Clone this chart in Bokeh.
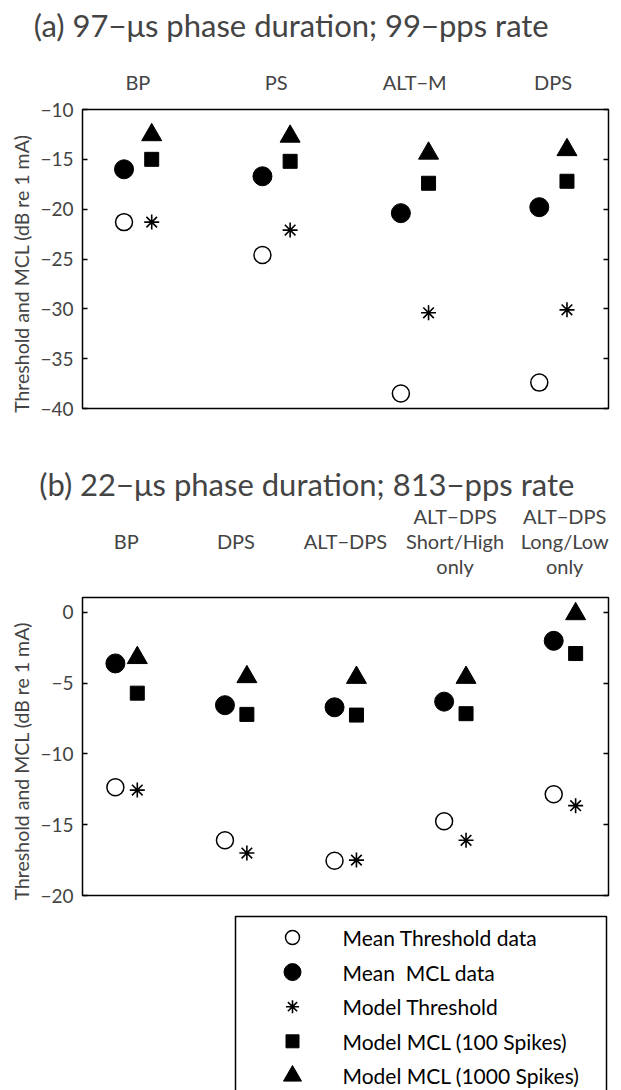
from bokeh.plotting import figure
from bokeh.layouts import column
from bokeh.models import FixedTicker, LinearAxis, Range1d, CustomLabelingPolicy
from bokeh.core.properties import value
from bokeh.embed import file_html
from bokeh.resources import INLINE

FONT = "Lato"

# ---------------- data ----------------
title_a = "(a) 97\u2212\u03bcs phase duration; 99\u2212pps rate"
cats_a = ["BP", "PS", "ALT\u2212M", "DPS"]
a_thr_data = [-21.3, -24.6, -38.5, -37.4]
a_mcl_data = [-16.0, -16.7, -20.4, -19.8]
a_thr_model = [-21.3, -22.1, -30.4, -30.1]
a_mcl100 = [-15.0, -15.2, -17.4, -17.2]
a_mcl1000 = [-12.55, -12.7, -14.4, -14.05]
a_yticks = [-40, -35, -30, -25, -20, -15, -10]

title_b = "(b) 22\u2212\u03bcs phase duration; 813\u2212pps rate"
cats_b = [" \nBP\n ", " \nDPS\n ", " \nALT\u2212DPS\n ",
          "ALT\u2212DPS\nShort/High\nonly", "ALT\u2212DPS\nLong/Low\nonly"]
b_thr_data = [-12.35, -16.1, -17.55, -14.75, -12.85]
b_mcl_data = [-3.6, -6.55, -6.7, -6.3, -2.0]
b_thr_model = [-12.55, -17.0, -17.5, -16.1, -13.65]
b_mcl100 = [-5.7, -7.2, -7.25, -7.15, -2.9]
b_mcl1000 = [-3.2, -4.55, -4.6, -4.6, -0.1]
b_yticks = [-20, -15, -10, -5, 0]

ylabel = "Threshold and MCL (dB re 1 mA)"
legend_labels = ["Mean Threshold data", "Mean\u00a0\u00a0MCL data", "Model Threshold",
                 "Model MCL (100 Spikes)", "Model MCL (1000 Spikes)"]

# marker styles (legend order)
STYLES = [
    dict(marker="circle", size=17, fill_color=None, line_color="black", line_width=1.5),
    dict(marker="circle", size=19, fill_color="black", line_color="black", line_width=1),
    dict(marker="asterisk", size=15, line_color="black", line_width=1.6),
    dict(marker="square", size=14, fill_color="black", line_color="black", line_width=1),
    dict(marker="triangle", size=20, fill_color="black", line_color="black", line_width=1),
]
LEGEND_SIZES = [14, 17, 13, 13, 18]

LEFT, RIGHT, W = 82, 13, 621
EN = "\u2002"


def fmt(t):
    return ("\u2212" + str(abs(t))) if t < 0 else str(t)


def make_panel(title, cats, series, y0, y1, yticks, height, top, bottom,
               title_pad, title_standoff, cat_standoff):
    n = len(cats)
    p = figure(width=W, height=height, output_backend="svg", toolbar_location=None,
               x_range=Range1d(0.6, n + 0.4), y_range=Range1d(y0, y1),
               x_axis_location="above", min_border_left=LEFT, min_border_right=RIGHT,
               min_border_top=top, min_border_bottom=bottom)
    p.outline_line_color = "black"
    p.outline_line_width = 1.5
    p.grid.visible = False
    p.background_fill_color = "white"
    p.border_fill_color = "white"

    idx = list(range(1, n + 1))
    xa = [i - 0.1 for i in idx]
    xb = [i + 0.1 for i in idx]
    xs = [xa, xa, xb, xb, xb]
    for x, y, st in zip(xs, series, STYLES):
        p.scatter(x=x, y=y, **st)

    # category labels on top, panel title as the top axis' label
    xax = p.xaxis[0]
    xax.ticker = FixedTicker(ticks=idx)
    xax.major_label_overrides = {i: c for i, c in zip(idx, cats)}
    xax.axis_line_color = None
    xax.major_tick_line_color = None
    xax.minor_tick_line_color = None
    xax.major_label_text_font = FONT
    xax.major_label_text_font_size = "20px"
    xax.major_label_text_line_height = 1.04
    xax.major_label_standoff = cat_standoff
    xax.axis_label = title + EN * title_pad
    xax.axis_label_text_font = FONT
    xax.axis_label_text_font_size = "31px"
    xax.axis_label_text_font_style = "normal"
    xax.axis_label_standoff = title_standoff

    yax = p.yaxis[0]
    yax.ticker = FixedTicker(ticks=yticks)
    yax.major_label_overrides = {t: fmt(t) for t in yticks}
    yax.axis_line_color = None
    yax.major_tick_in = 5
    yax.major_tick_out = 0
    yax.major_tick_line_width = 1.5
    yax.minor_tick_line_color = None
    yax.major_label_text_font = FONT
    yax.major_label_text_font_size = "19px"
    yax.major_label_standoff = 9
    yax.axis_label = ylabel + EN * 3
    yax.axis_label_text_font = FONT
    yax.axis_label_text_font_size = "19.5px"
    yax.axis_label_text_font_style = "normal"
    yax.axis_label_standoff = 4

    rax = LinearAxis(ticker=FixedTicker(ticks=yticks), axis_line_color=None,
                     major_tick_in=5, major_tick_out=0, major_tick_line_width=1.5,
                     minor_tick_line_color=None, major_label_standoff=0,
                     major_label_text_font_size="1px",
                     major_label_policy=CustomLabelingPolicy(code="return []"))
    p.add_layout(rax, "right")
    return p


pa = make_panel(title_a, cats_a, [a_thr_data, a_mcl_data, a_thr_model, a_mcl100, a_mcl1000],
                -40, -10, a_yticks, 450, 109, 42, 7, 23, 10)
pb = make_panel(title_b, cats_b, [b_thr_data, b_mcl_data, b_thr_model, b_mcl100, b_mcl1000],
                -20, 1.06, b_yticks, 455, 147, 10, 5, -2, 14)

# ---------------- legend panel (pixel-space figure) ----------------
LH = 185
pl = figure(width=W, height=LH, output_backend="svg", toolbar_location=None,
            x_range=Range1d(LEFT, W - RIGHT), y_range=Range1d(LH, 0),
            x_axis_location=None, y_axis_location=None,
            min_border_left=LEFT, min_border_right=RIGHT, min_border_top=0, min_border_bottom=0)
pl.outline_line_color = None
pl.grid.visible = False
pl.background_fill_color = "white"
pl.border_fill_color = "white"

box_left, box_right, box_top = 235, 606, 11
row0, pitch = 32, 34.6
mark_x, text_x = 292, 342
pl.quad(left=[box_left], right=[box_right], top=[box_top], bottom=[LH + 20],
        fill_color="white", line_color="black", line_width=1.5)
rows = [row0 + k * pitch for k in range(len(legend_labels))]
for yv, st, sz in zip(rows, STYLES, LEGEND_SIZES):
    s = dict(st)
    s["size"] = sz
    pl.scatter(x=[mark_x], y=[yv], **s)
pl.text(x=[text_x] * len(rows), y=rows, text=legend_labels,
        text_font=value(FONT), text_font_size="21px", text_baseline="middle",
        text_align="left", text_color="black")

layout = column(pa, pb, pl, spacing=0)
open("out.html", "w").write(file_html(layout, INLINE))
